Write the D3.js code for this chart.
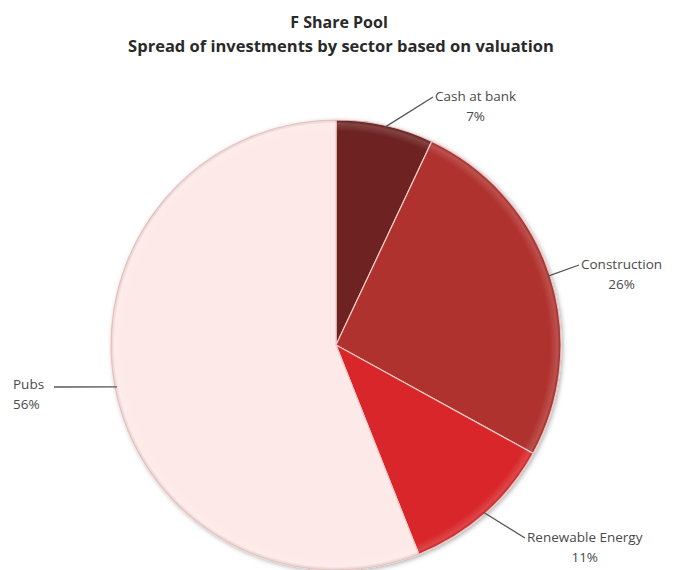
<!DOCTYPE html>
<html>
<head>
<meta charset="utf-8">
<script src="https://cdn.jsdelivr.net/npm/d3@7"></script>
<style>
  body { margin: 0; background: #fff; }
  text { font-family: "Open Sans", Lato, sans-serif; }
</style>
</head>
<body>
<div id="chart"></div>
<script>
var sectors = ["Cash at bank", "Construction", "Renewable Energy", "Pubs"];
var shares = [7, 26, 11, 56];
var colors = ["#6e2424", "#b0302e", "#d8252a", "#fde9e8"];
// elbow of each leader line, same order as sectors
var labelPos = [[433, 97], [579, 265], [525, 538], [54, 387]];
var labelAnchor = ["start", "start", "start", "end"];

var width = 677, height = 570;
var cx = 336, cy = 345, radius = 225;

var svg = d3.select("#chart").append("svg")
  .attr("width", width)
  .attr("height", height);

var defs = svg.append("defs");
var filt = defs.append("filter").attr("id", "shadow")
  .attr("x", "-10%").attr("y", "-10%").attr("width", "120%").attr("height", "120%");
filt.append("feDropShadow").attr("dx", 1.5).attr("dy", 1.5).attr("stdDeviation", 2)
  .attr("flood-color", "#000").attr("flood-opacity", 0.3);

var grad = defs.append("radialGradient").attr("id", "bevel")
  .attr("gradientUnits", "userSpaceOnUse")
  .attr("cx", 0).attr("cy", 0).attr("r", radius);
grad.append("stop").attr("offset", "0.95").attr("stop-color", "#fff").attr("stop-opacity", 0);
grad.append("stop").attr("offset", "0.985").attr("stop-color", "#fff").attr("stop-opacity", 0.15);
grad.append("stop").attr("offset", "1").attr("stop-color", "#000").attr("stop-opacity", 0.08);

svg.append("text")
  .attr("x", 339).attr("y", 28)
  .attr("text-anchor", "middle")
  .attr("font-size", 16).attr("font-weight", "bold").attr("fill", "#2a2a2a")
  .text("F Share Pool");
svg.append("text")
  .attr("x", 341).attr("y", 52)
  .attr("text-anchor", "middle")
  .attr("font-size", 16.5).attr("font-weight", "bold").attr("fill", "#2a2a2a")
  .text("Spread of investments by sector based on valuation");

var pie = d3.pie().sort(null).value(function(d) { return d; });
var arcs = pie(shares);
var arc = d3.arc().innerRadius(0).outerRadius(radius);

var g = svg.append("g").attr("transform", "translate(" + cx + "," + cy + ")");

g.append("g").attr("filter", "url(#shadow)")
  .selectAll(".slice")
  .data(arcs)
  .enter().append("path")
  .attr("class", "slice")
  .attr("d", arc)
  .attr("fill", function(d, i) { return colors[i]; })
  .attr("stroke", "#f3c9c4")
  .attr("stroke-width", 1.2);

g.selectAll(".bevel")
  .data(arcs)
  .enter().append("path")
  .attr("class", "bevel")
  .attr("d", arc)
  .attr("fill", "url(#bevel)");

// leader lines and labels
arcs.forEach(function(d, i) {
  var mid = (d.startAngle + d.endAngle) / 2;
  var sx = cx + Math.sin(mid) * (radius - 2);
  var sy = cy - Math.cos(mid) * (radius - 2);
  var p = labelPos[i];
  svg.append("line")
    .attr("x1", sx).attr("y1", sy)
    .attr("x2", p[0]).attr("y2", p[1])
    .attr("stroke", "#555").attr("stroke-width", 1.3);

  var lbl = svg.append("text")
    .attr("font-size", 13.5)
    .attr("fill", "#4a4a4a");
  if (labelAnchor[i] === "start") {
    var t1 = lbl.append("tspan").attr("y", p[1] + 4).text(sectors[i]);
    var w = t1.node().getComputedTextLength();
    var center = p[0] + 2 + w / 2;
    lbl.attr("text-anchor", "middle");
    t1.attr("x", center);
    lbl.append("tspan").attr("x", center).attr("y", p[1] + 24).text(shares[i] + "%");
  } else {
    lbl.attr("text-anchor", "start");
    lbl.append("tspan").attr("x", 13).attr("y", p[1] + 2).text(sectors[i]);
    lbl.append("tspan").attr("x", 13).attr("y", p[1] + 22).text(shares[i] + "%");
  }
});
</script>
</body>
</html>
